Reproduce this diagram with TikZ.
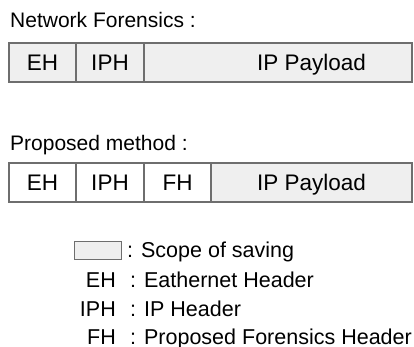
\documentclass[tikz,border=0pt]{standalone}
\usepackage{fontspec}
\setmainfont{Liberation Sans}
\usepackage{xcolor}
\usetikzlibrary{positioning}
\definecolor{saved}{RGB}{239,239,239}
\definecolor{frame}{RGB}{110,110,110}

\begin{document}
\begin{tikzpicture}[x=1pt,y=-1pt,
  field/.style={draw=frame,line width=1.3pt,minimum height=39pt,inner sep=0pt,outer sep=0pt,text height=16pt,text depth=0pt,font=\fontsize{22.5}{27}\selectfont},
  kept/.style={field,fill=saved},
  title/.style={inner sep=0pt,font=\fontsize{21}{25}\selectfont},
  leg/.style={inner sep=0pt,font=\fontsize{21.5}{26}\selectfont}]
\useasboundingbox (0,0) rectangle (414,347);
\node[title,anchor=base west](nf) at (10,28) {Network Forensics :};
\node[kept,minimum width=67pt,anchor=north west](eh1) at (9,43) {EH};
\node[kept,minimum width=68pt,right=0pt of eh1](iph1) {IPH};
\node[kept,minimum width=268pt,right=0pt of iph1](pl1) {\hspace*{67pt}IP Payload};
\node[title,anchor=base west](pm) at (10,151) {Proposed method :};
\node[field,minimum width=67pt,anchor=north west](eh2) at (9,163) {EH};
\node[field,minimum width=68pt,right=0pt of eh2](iph2) {IPH};
\node[field,minimum width=67pt,right=0pt of iph2](fh2) {FH};
\node[kept,minimum width=201pt,right=0pt of fh2](pl2) {IP Payload};
\node[draw=frame,fill=saved,line width=1.3pt,minimum width=47pt,minimum height=18pt,inner sep=0pt,anchor=north west](key) at (74,241) {};
\node[leg,anchor=base west](scope) at (127,257) {: Scope of saving};
\node[leg,anchor=base east](keh) at (116,287) {EH};
\node[leg,anchor=base west](leh) at (130,287) {: Eathernet Header};
\node[leg,anchor=base east](kiph) at (116,316) {IPH};
\node[leg,anchor=base west](liph) at (130,316) {: IP Header};
\node[leg,anchor=base east](kfh) at (116,344) {FH};
\node[leg,anchor=base west](lfh) at (130,344) {: Proposed Forensics Header};
\end{tikzpicture}
\end{document}
